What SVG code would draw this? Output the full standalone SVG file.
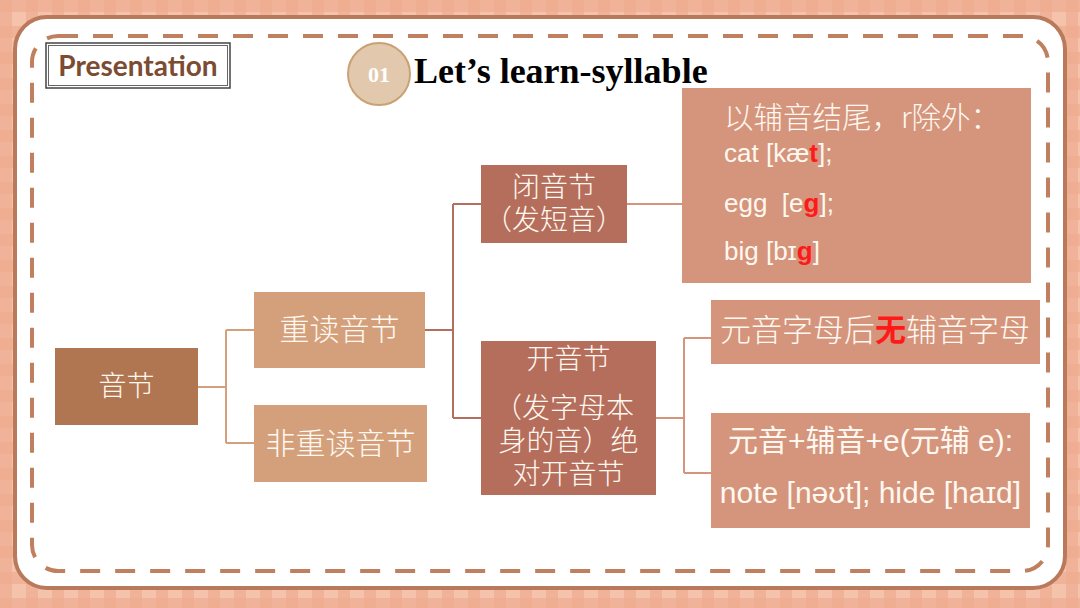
<svg xmlns="http://www.w3.org/2000/svg" width="1080" height="608" viewBox="0 0 1080 608">
<defs>
<pattern id="plaid" width="26" height="26" patternUnits="userSpaceOnUse">
<rect width="26" height="26" fill="#f5c3ab"/>
<rect x="0" y="0" width="12" height="26" fill="#eeac90" opacity="0.7"/>
<rect x="0" y="0" width="26" height="12" fill="#eeac90" opacity="0.7"/>
</pattern>
<style>
.conn{fill:none;stroke-width:2}
.cjk{font-family:"Noto Sans CJK SC","Liberation Sans",sans-serif;fill:#fff8f0;font-weight:300}
.cjk2{font-family:"Liberation Sans","Noto Sans CJK SC",sans-serif;fill:#fff8f0;font-weight:300}
.lat{font-family:"Liberation Sans","Noto Sans CJK SC",sans-serif;fill:#fff8f0}
.red{fill:#ff1a1a;font-weight:bold}
</style>
</defs>
<rect width="1080" height="608" fill="url(#plaid)"/>
<rect x="15" y="17" width="1050" height="571" rx="32" fill="#ffffff" stroke="#b97a5c" stroke-width="4"/>
<rect x="32" y="36" width="1016" height="535" rx="26" fill="none" stroke="#c0805f" stroke-width="4" stroke-dasharray="20 15"/>

<g id="header">
<rect x="46" y="43" width="184" height="45" fill="#fff" stroke="#444" stroke-width="1.5"/>
<rect x="48.5" y="45.5" width="179" height="40" fill="none" stroke="#666" stroke-width="1"/>
<text x="138" y="76" text-anchor="middle" font-family="Lato,'Liberation Sans',sans-serif" font-weight="bold" font-size="28" fill="#7b4b32">Presentation</text>
<circle cx="379" cy="74" r="31" fill="#e2c9ae" stroke="#c9a173" stroke-width="2"/>
<text x="379" y="82" text-anchor="middle" font-family="'Liberation Serif',serif" font-weight="bold" font-size="22" fill="#fff">01</text>
<text x="414" y="83" font-family="'Liberation Serif',serif" font-weight="bold" font-size="36" fill="#000">Let’s learn-syllable</text>
</g>

<g id="connectors">
<path class="conn" stroke="#d4a07c" d="M198 387H226M226 330V443M226 330H254M226 443H254"/>
<path class="conn" stroke="#b56e5c" d="M425 330H453M453 204V418M453 204H481M453 418H481"/>
<path class="conn" stroke="#d4957c" d="M627 204H682"/>
<path class="conn" stroke="#d4957c" d="M656 418H684M684 338V473M684 338H711M684 473H711"/>
</g>

<g id="n-yinjie">
<rect x="55" y="348" width="143" height="77" fill="#b07652"/>
<text class="cjk" x="126.5" y="396" text-anchor="middle" font-size="28">音节</text>
</g>
<g id="n-zhongdu">
<rect x="254" y="292" width="171" height="76" fill="#d4a07c"/>
<text class="cjk" x="339.5" y="340" text-anchor="middle" font-size="30">重读音节</text>
</g>
<g id="n-feizhongdu">
<rect x="254" y="405" width="173" height="77" fill="#d4a07c"/>
<text class="cjk" x="340.5" y="454" text-anchor="middle" font-size="30">非重读音节</text>
</g>
<g id="n-biyinjie">
<rect x="481" y="165" width="146" height="78" fill="#b56e5c"/>
<text class="cjk2" text-anchor="middle" font-size="28"><tspan x="554" y="197">闭音节</tspan><tspan x="554" y="230">（发短音）</tspan></text>
</g>
<g id="n-kaiyinjie">
<rect x="481" y="341" width="175" height="154" fill="#b56e5c"/>
<text class="cjk2" text-anchor="middle" font-size="28"><tspan x="568.5" y="369">开音节</tspan><tspan x="564" y="418">（发字母本</tspan><tspan x="568.5" y="451">身的音）绝</tspan><tspan x="568.5" y="484">对开音节</tspan></text>
</g>
<g id="n-closed-desc">
<rect x="682" y="88" width="349" height="195" fill="#d4957c"/>
<text class="cjk" x="724" y="128" font-size="29.5">以辅音结尾，r除外：</text>
<text class="lat" x="724" y="162" font-size="26">cat [kæ<tspan class="red">t</tspan>];</text>
<text class="lat" x="724" y="212" font-size="26">egg&#160; [e<tspan class="red">g</tspan>];</text>
<text class="lat" x="724" y="260" font-size="26">big [bɪ<tspan class="red">g</tspan>]</text>
</g>
<g id="n-open-1">
<rect x="711" y="300" width="329" height="64" fill="#d4957c"/>
<text class="cjk" x="720" y="341" font-size="31">元音字母后<tspan class="red" font-weight="normal">无</tspan>辅音字母</text>
</g>
<g id="n-open-2">
<rect x="711" y="413" width="319" height="115" fill="#d4957c"/>
<text class="lat" x="870.5" y="451" text-anchor="middle" font-size="30">元音+辅音+e(元辅 e):</text>
<text class="lat" x="870.5" y="503" text-anchor="middle" font-size="30">note [nəʊt]; hide [haɪd]</text>
</g>
</svg>
